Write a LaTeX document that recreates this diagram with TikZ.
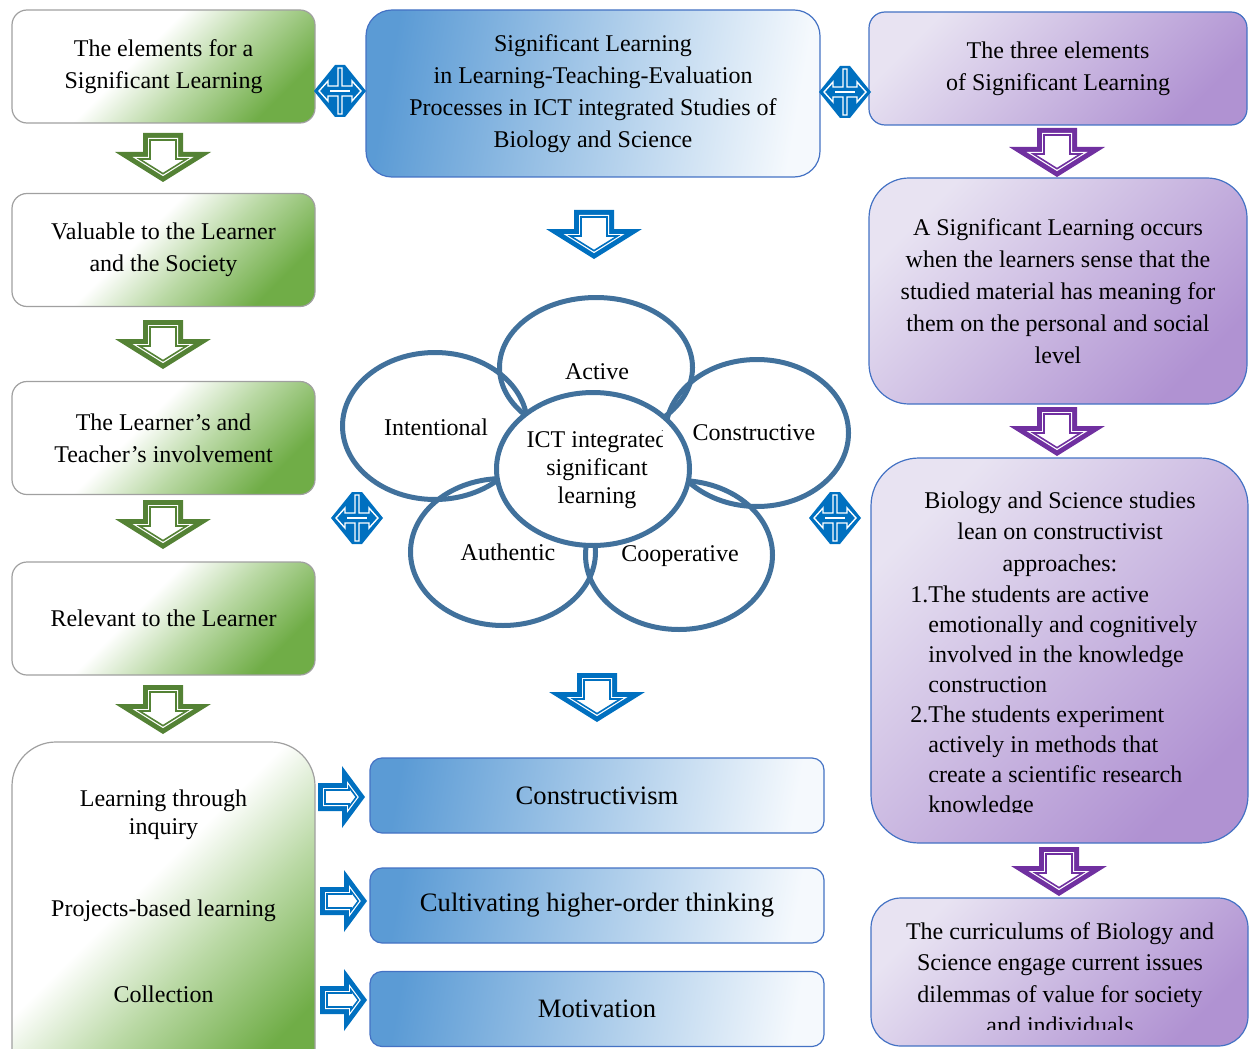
\documentclass[tikz,border=0pt]{standalone}
\usepackage{fontspec}
\setmainfont{Liberation Serif}
\usetikzlibrary{shapes.geometric}
\definecolor{grA}{RGB}{112,173,71}
\definecolor{grB}{RGB}{186,217,165}
\definecolor{grline}{RGB}{160,160,160}
\definecolor{blA}{RGB}{91,155,213}
\definecolor{blB}{RGB}{245,249,253}
\definecolor{bline}{RGB}{68,114,196}
\definecolor{puA}{RGB}{176,146,210}
\definecolor{puB}{RGB}{232,227,242}
\definecolor{arG}{RGB}{84,130,53}
\definecolor{arB}{RGB}{0,112,192}
\definecolor{arP}{RGB}{112,48,160}
\definecolor{ringc}{RGB}{65,113,156}
\pgfdeclareverticalshading{grsh}{100bp}{color(0bp)=(grA); color(25bp)=(grA); color(42bp)=(grB); color(56bp)=(white); color(100bp)=(white)}
\pgfdeclareverticalshading{blsh}{100bp}{color(0bp)=(blB); color(25bp)=(blB); color(75bp)=(blA); color(100bp)=(blA)}
\pgfdeclareverticalshading{push}{100bp}{color(0bp)=(puA); color(25bp)=(puA); color(75bp)=(puB); color(100bp)=(puB)}
\newcommand\dnarr[3]{%
  \begin{scope}[shift={(#1,#2)}]
    \fill[#3] (-20,0)--(20,0)--(20,19)--(48,19)--(0,49)--(-48,19)--(-20,19)--cycle;
    \fill[white] (-15,5)--(15,5)--(15,24)--(30.5,24)--(0,43.1)--(-30.5,24)--(-15,24)--cycle;
    \draw[#3, line width=0.8pt] (-13,7)--(13,7)--(13,26)--(23.6,26)--(0,40.7)--(-23.6,26)--(-13,26)--cycle;
  \end{scope}}
\newcommand\rtarr[2]{%
  \begin{scope}[shift={(#1,#2)}]
    \fill[arB] (0,-14)--(24,-14)--(24,-31)--(47,0)--(24,31)--(24,14)--(0,14)--cycle;
    \fill[white] (5,-9)--(29,-9)--(29,-15.9)--(40.8,0)--(29,15.9)--(29,9)--(5,9)--cycle;
    \draw[arB, line width=0.8pt] (7,-7)--(31,-7)--(31,-9.8)--(38.3,0)--(31,9.8)--(31,7)--(7,7)--cycle;
  \end{scope}}
\newcommand\lrarr[2]{%
  \begin{scope}[shift={(#1,#2)}]
    \fill[arB] (-26,0)--(-5,-26)--(5,-26)--(26,0)--(5,26)--(-5,26)--cycle;
    \draw[white, line width=0.7pt, fill=arB] (-2,-23)--(-2,-5)--(-12,-5)--(-12,-10)--(-21,0)--(-12,10)--(-12,5)--(-2,5)--(-2,23)--(2,23)--(2,5)--(12,5)--(12,10)--(21,0)--(12,-10)--(12,-5)--(2,-5)--(2,-23)--cycle;
    \draw[white, line width=0.6pt] (-10,0)--(10,0);
  \end{scope}}
\tikzset{
  txt/.style={font=\fontsize{12pt}{16pt}\selectfont, align=center, inner sep=0pt},
  gbox/.style={txt, draw=grline, line width=0.6pt, shade, shading=grsh, shading angle=45, rounded corners=7.5pt, minimum width=151.5pt, minimum height=56.5pt},
  pbox/.style={txt, draw=bline, line width=0.6pt, shade, shading=push, shading angle=45, minimum width=189pt},
  bbox/.style={txt, draw=bline, line width=0.6pt, shade, shading=blsh, shading angle=80, minimum width=227pt},
  sbox/.style={bbox, rounded corners=6pt, minimum height=37.5pt, font=\fontsize{13.3pt}{16pt}\selectfont},
  ringnode/.style={ellipse, draw=ringc, line width=2.5pt, inner sep=0pt},
  rlabel/.style={txt, font=\fontsize{12pt}{14pt}\selectfont}
}
\begin{document}
\begin{tikzpicture}[x=0.5pt,y=-0.5pt]
\useasboundingbox (0,0) rectangle (1251,1048);
\clip (0,0) rectangle (1251,1048);
% left column
\node[gbox] (g1) at (163.5,66.5) {The elements for a\\Significant Learning};
\node[gbox] (g2) at (163.5,250) {Valuable to the Learner\\and the Society};
\node[gbox] (g3) at (163.5,438) {The Learner’s and\\Teacher’s involvement};
\node[gbox] (g4) at (163.5,618.5) {Relevant to the Learner};
\node[gbox, minimum height=179pt, rounded corners=22pt] (g5) at (163.5,921) {};
\node[txt, font=\fontsize{12pt}{14pt}\selectfont] (g5a) at (163.5,815) {Learning through\\inquiry};
\node[txt] (g5b) at (163.5,911) {Projects-based learning};
\node[txt] (g5c) at (163.5,994) {Collection};
% centre column
\node[bbox, rounded corners=13pt, minimum height=83.5pt] (b0) at (593,93.5) {Significant Learning\\in Learning-Teaching-Evaluation\\Processes in ICT integrated Studies of\\Biology and Science};
\node[sbox] (b1) at (597,795.5) {Constructivism};
\node[sbox] (b2) at (597,905.5) {Cultivating higher-order thinking};
\node[sbox] (b3) at (597,1009) {Motivation};
% right column
\node[pbox, rounded corners=8pt, minimum height=56.5pt] (p1) at (1058,68.5) {The three elements\\of Significant Learning};
\node[pbox, rounded corners=20pt, minimum height=113pt] (p2) at (1058,291) {A Significant Learning occurs\\when the learners sense that the\\studied material has meaning for\\them on the personal and social\\level};
\node[pbox, rounded corners=24pt, minimum width=188.5pt, minimum height=192.5pt] (p3) at (1059.5,650.5) {};
\node[txt, font=\fontsize{12pt}{15.75pt}\selectfont] (p3h) at (1060,534) {Biology and Science studies\\lean on constructivist\\approaches:};
\begin{scope}
  \clip (880,578) rectangle (1245,812);
  \node[txt, align=left, anchor=west, font=\fontsize{12pt}{15pt}\selectfont] (p3l) at (910,701.5) {1.The students are active\\\hspace*{9pt}emotionally and cognitively\\\hspace*{9pt}involved in the knowledge\\\hspace*{9pt}construction\\2.The students experiment\\\hspace*{9pt}actively in methods that\\\hspace*{9pt}create a scientific research\\\hspace*{9pt}knowledge};
\end{scope}
\node[pbox, rounded corners=15pt, minimum width=188.5pt, minimum height=74pt] (p4) at (1059.5,972) {};
\begin{scope}
  \clip (880,905) rectangle (1245,1029);
  \node[txt, font=\fontsize{12pt}{15.7pt}\selectfont] (p4t) at (1060,978) {The curriculums of Biology and\\Science engage current issues\\dilemmas of value for society\\and individuals};
\end{scope}
% rings
\node[ringnode, minimum width=96.5pt, minimum height=70pt] (active) at (596,367.5) {};
\node[ringnode, minimum width=92.5pt, minimum height=73.5pt] (intent) at (435,426) {};
\node[ringnode, minimum width=91.5pt, minimum height=73.5pt] (constr) at (757,433) {};
\node[ringnode, minimum width=92.5pt, minimum height=73.5pt] (authen) at (503,552) {};
\node[ringnode, minimum width=93.5pt, minimum height=74.5pt] (coop) at (679,555) {};
\node[ringnode, fill=white, minimum width=96.5pt, minimum height=76.5pt] (core) at (593,469) {};
\node[rlabel] (lact) at (597,372) {Active};
\node[rlabel] (lint) at (436,427) {Intentional};
\node[rlabel] (lcon) at (754,433) {Constructive};
\node[rlabel] (laut) at (508,552) {Authentic};
\node[rlabel] (lcoo) at (680,556) {Cooperative};
\begin{scope}
  \clip (500,420) rectangle (662,520);
  \node[rlabel] (lcore) at (597,470) {ICT integrated\\significant\\learning};
\end{scope}
% arrows
\dnarr{163}{133}{arG}
\dnarr{163}{320}{arG}
\dnarr{163}{500}{arG}
\dnarr{163}{685}{arG}
\dnarr{594}{210}{arB}
\dnarr{597}{673}{arB}
\dnarr{1057}{128}{arP}
\dnarr{1057}{407}{arP}
\dnarr{1059}{847}{arP}
\lrarr{340}{91}
\lrarr{845}{92}
\lrarr{357}{518}
\lrarr{835}{518}
\rtarr{318}{797}
\rtarr{320}{901}
\rtarr{320}{1000}
\end{tikzpicture}
\end{document}
